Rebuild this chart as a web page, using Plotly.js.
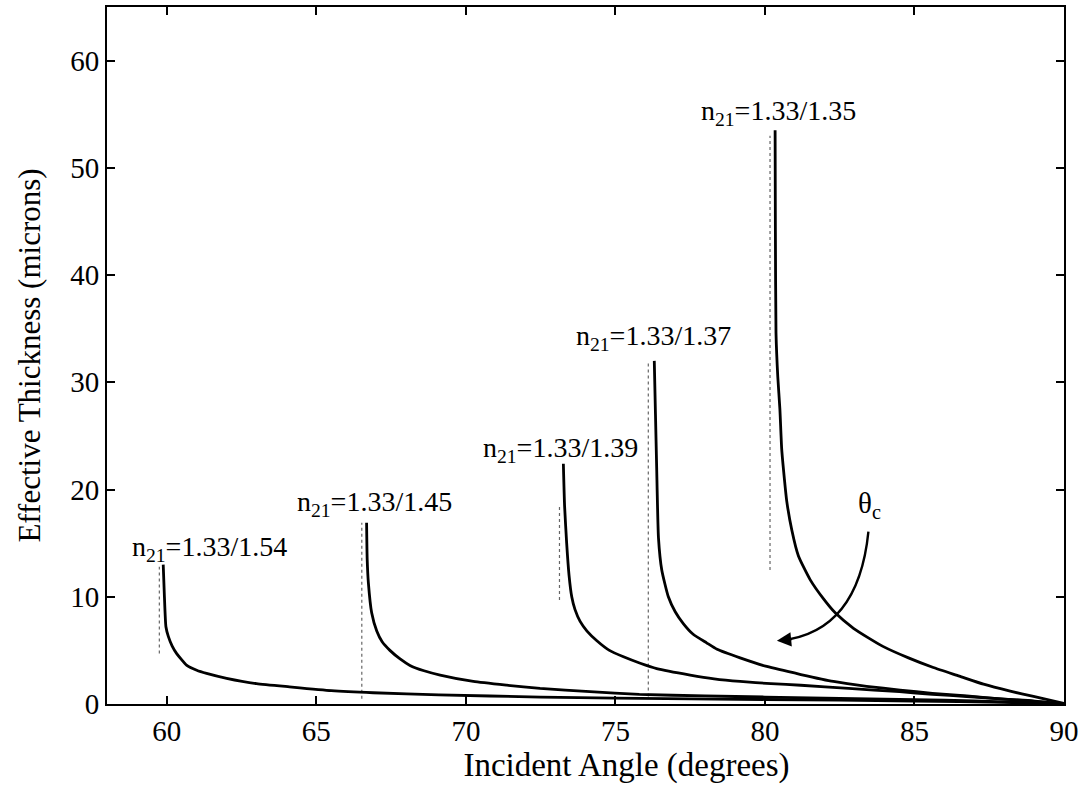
<!DOCTYPE html>
<html>
<head>
<meta charset="utf-8">
<script src="https://cdn.plot.ly/plotly-3.0.1.min.js"></script>
<style>html,body{margin:0;padding:0;background:#fff;}#chart{width:1087px;height:787px;}</style>
</head>
<body>
<div id="chart"></div>
<script>
// Series labels (n21 = 1.33 / n2)
const seriesNames = ['1.33/1.54', '1.33/1.45', '1.33/1.39', '1.33/1.37', '1.33/1.35'];

// Incident angle (degrees) and effective thickness (microns)
const angle154 = [59.88, 59.92, 59.97, 60.05, 60.18, 60.33, 60.67, 61.0, 61.33, 62.0, 63.0, 64.1, 65.5, 66.9, 69.1, 72.5, 75, 80, 85, 88, 90];
const thick154 = [13.0, 10.0, 7.2, 6.3, 5.4, 4.7, 3.6, 3.15, 2.86, 2.4, 1.9, 1.6, 1.25, 1.05, 0.85, 0.65, 0.55, 0.42, 0.28, 0.15, 0];

const angle145 = [66.68, 66.70, 66.74, 66.85, 67.02, 67.2, 67.46, 67.8, 68.13, 68.6, 69.14, 70.25, 71.37, 72.48, 74.15, 75.8, 78, 80, 83, 86, 88, 90];
const thick145 = [16.9, 13.5, 11.3, 8.5, 6.8, 5.8, 5.0, 4.2, 3.6, 3.1, 2.7, 2.1, 1.75, 1.45, 1.15, 0.9, 0.75, 0.65, 0.5, 0.35, 0.2, 0];

const angle139 = [73.26, 73.30, 73.37, 73.45, 73.54, 73.65, 73.82, 74.05, 74.38, 74.8, 75.27, 75.83, 76.38, 77.5, 78.3, 79.17, 80.2, 81.2, 82.8, 84.5, 85.6, 86.75, 88.5, 90];
const thick139 = [22.4, 18.5, 15.0, 12.0, 10.0, 8.8, 7.7, 6.8, 5.9, 5.0, 4.4, 3.8, 3.3, 2.7, 2.35, 2.1, 1.9, 1.75, 1.45, 1.15, 0.9, 0.7, 0.35, 0];

const angle137 = [76.30, 76.34, 76.38, 76.44, 76.55, 76.77, 77.0, 77.27, 77.6, 78.05, 78.4, 79.17, 80.06, 81.2, 82.29, 83.4, 84.52, 85.6, 86.75, 88.0, 88.97, 90];
const thick137 = [32.0, 27.0, 22.0, 15.5, 12.5, 10.0, 8.6, 7.5, 6.5, 5.7, 5.1, 4.3, 3.5, 2.75, 2.1, 1.65, 1.3, 1.0, 0.75, 0.45, 0.3, 0];

const angle135 = [80.34, 80.35, 80.37, 80.43, 80.5, 80.56, 80.65, 80.73, 80.9, 81.12, 81.51, 81.96, 82.35, 82.96, 83.5, 83.96, 84.8, 85.63, 86.5, 87.31, 88.2, 88.98, 90];
const thick135 = [53.5, 44.0, 34.6, 30.5, 27.5, 23.8, 21.0, 18.9, 16.2, 13.8, 11.6, 9.8, 8.5, 7.06, 6.1, 5.35, 4.3, 3.4, 2.6, 1.85, 1.2, 0.7, 0.05];

// Critical angles (dotted markers) and their drawn extent
const critAngle = [59.75, 66.52, 73.13, 76.1, 80.17];
const critTop = [12.8, 16.9, 18.4, 32.0, 53.0];
const critBottom = [4.7, 0.5, 9.7, 0.7, 12.5];

// Axis ticks
const xTicks = [60, 65, 70, 75, 80, 85, 90];
const yTicks = [0, 10, 20, 30, 40, 50, 60];

const angles = [angle154, angle145, angle139, angle137, angle135];
const thicks = [thick154, thick145, thick139, thick137, thick135];

const FONT = 'Liberation Serif, Times New Roman, serif';
const traces = [];
for (let i = 0; i < critAngle.length; i++) {
  traces.push({
    x: [critAngle[i], critAngle[i]], y: [critBottom[i], critTop[i]],
    mode: 'lines', line: {color: '#666', width: 1.2, dash: 'dot'},
    hoverinfo: 'skip', showlegend: false
  });
}
for (let i = 0; i < angles.length; i++) {
  traces.push({
    x: angles[i], y: thicks[i], name: 'n21=' + seriesNames[i],
    mode: 'lines', line: {color: '#000', width: 2.8, shape: 'spline', smoothing: 0.5},
    showlegend: false
  });
}

// label positions (layout)
const labelX = [61.44, 66.96, 73.18, 76.26, 80.47];
const labelY = [14.5, 18.7, 23.7, 34.2, 55.2];

const annotations = seriesNames.map((s, i) => ({
  x: labelX[i], y: labelY[i], xref: 'x', yref: 'y',
  text: 'n<sub>21</sub>=' + s, showarrow: false,
  font: {family: FONT, size: 28, color: '#000'}
}));
annotations.push({
  x: 83.5, y: 18.6, xref: 'x', yref: 'y', text: 'θ<sub>c</sub>', showarrow: false,
  font: {family: FONT, size: 29, color: '#000'}
});
annotations.push({
  x: 80.40, y: 5.9, ax: 80.95, ay: 6.05, xref: 'x', yref: 'y', axref: 'x', ayref: 'y',
  text: '', showarrow: true, arrowhead: 2, arrowsize: 1.3, arrowwidth: 2.2, arrowcolor: '#000'
});

const layout = {
  width: 1087, height: 787,
  margin: {l: 107, r: 23, t: 7, b: 83},
  paper_bgcolor: '#fff', plot_bgcolor: '#fff',
  font: {family: FONT, color: '#000', size: 29},
  showlegend: false,
  xaxis: {
    range: [58, 90], tickvals: xTicks, ticktext: xTicks.map(String),
    ticks: 'inside', ticklen: 8, tickwidth: 2, tickcolor: '#000',
    showline: true, linecolor: '#000', linewidth: 2, mirror: 'ticks',
    showgrid: false, zeroline: false,
    tickfont: {family: FONT, size: 29, color: '#000'},
    title: {text: 'Incident Angle (degrees)', font: {family: FONT, size: 33, color: '#000'}, standoff: 6}
  },
  yaxis: {
    range: [0, 65], tickvals: yTicks, ticktext: yTicks.map(String),
    ticks: 'inside', ticklen: 8, tickwidth: 2, tickcolor: '#000',
    showline: true, linecolor: '#000', linewidth: 2, mirror: 'ticks',
    showgrid: false, zeroline: false,
    tickfont: {family: FONT, size: 29, color: '#000'},
    title: {text: 'Effective Thickness (microns)', font: {family: FONT, size: 31, color: '#000'}, standoff: 4}
  },
  shapes: [{
    type: 'path', xref: 'x', yref: 'y',
    path: 'M 83.46,16.07 Q 83.12,6.72 80.55,5.93',
    line: {color: '#000', width: 2.4}
  }],
  annotations: annotations
};

Plotly.newPlot('chart', traces, layout, {staticPlot: true, displayModeBar: false}).then(function (gd) {
  // shift the x-axis title to match the reference's off-centre placement
  const t = gd.querySelector('.xtitle');
  if (t) { t.setAttribute('transform', 'translate(41,0)'); }
  const yt = gd.querySelector('.ytitle');
  if (yt) {
    const r = yt.getBoundingClientRect();
    const cx = r.left + r.width / 2;
    yt.setAttribute('transform', 'translate(' + (29 - cx) + ',0) ' + (yt.getAttribute('transform') || ''));
  }
});
</script>
</body>
</html>
